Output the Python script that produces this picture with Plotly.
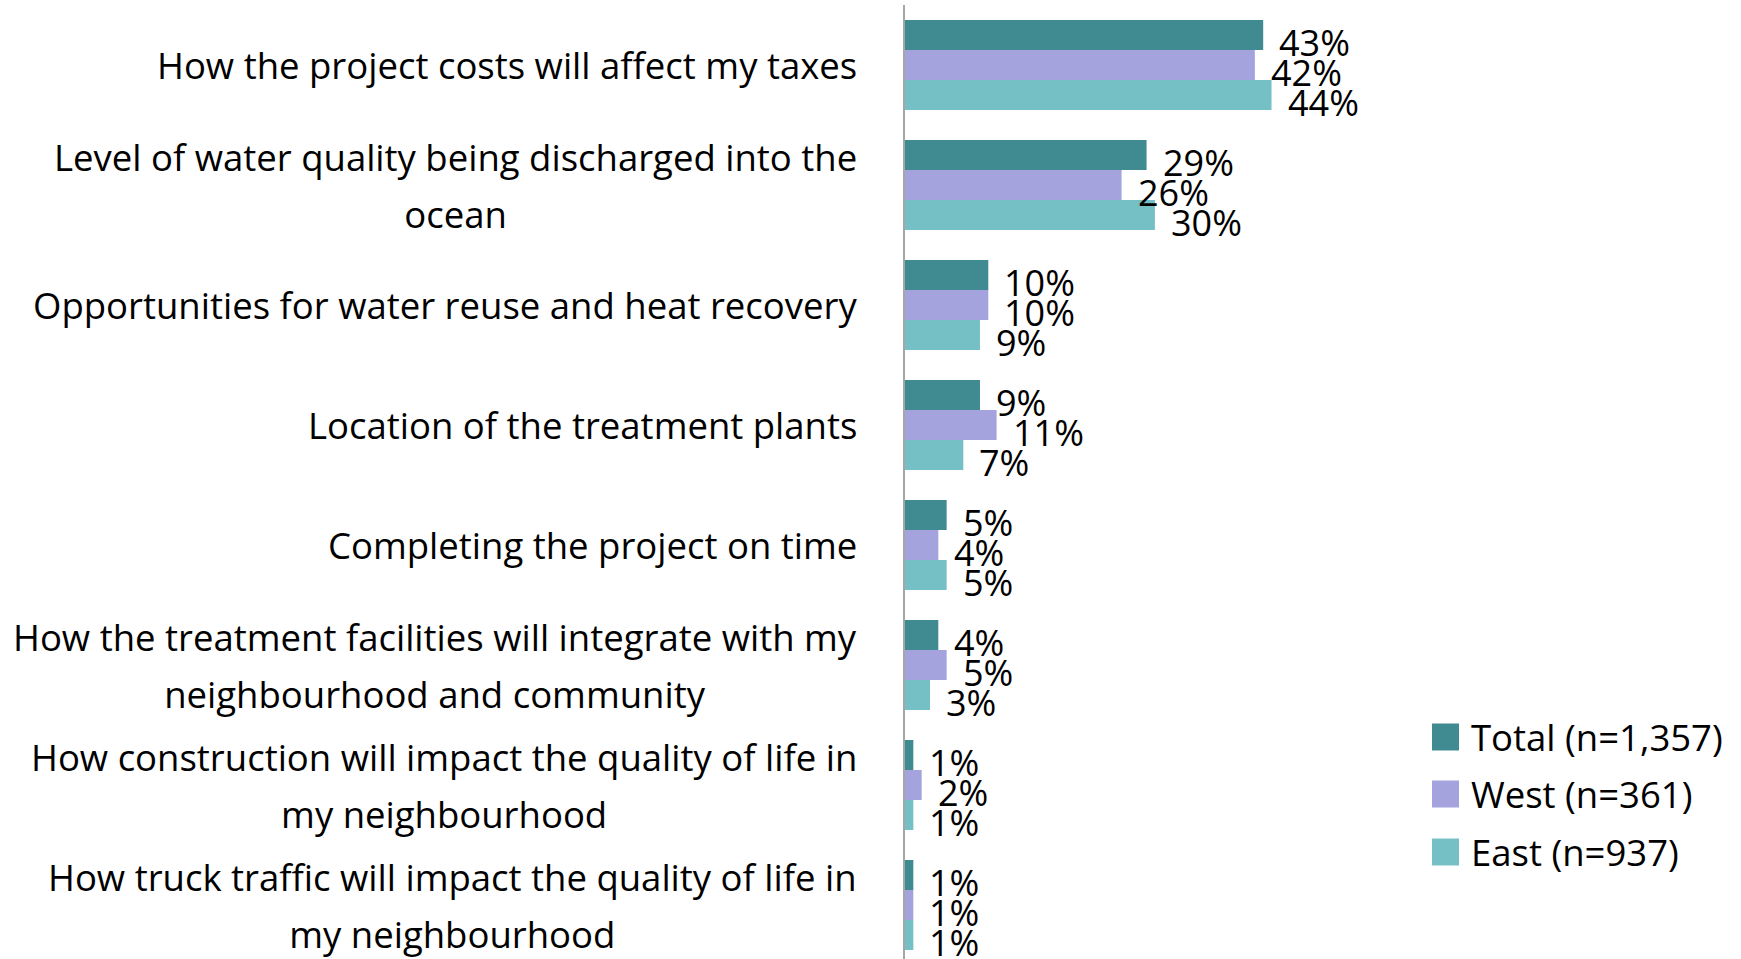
import plotly.graph_objects as go

categories = [
    "How the project costs will affect my taxes",
    "Level of water quality being discharged into the<br>ocean",
    "Opportunities for water reuse and heat recovery",
    "Location of the treatment plants",
    "Completing the project on time",
    "How the treatment facilities will integrate with my<br>neighbourhood and community",
    "How construction will impact the quality of life in<br>my neighbourhood",
    "How truck traffic will impact the quality of life in<br>my neighbourhood",
]
series_names = ["Total (n=1,357)", "West (n=361)", "East (n=937)"]
total = [43, 29, 10, 9, 5, 4, 1, 1]
west = [42, 26, 10, 11, 4, 5, 2, 1]
east = [44, 30, 9, 7, 5, 3, 1, 1]
series_values = [total, west, east]
colors = ["#3F8B91", "#A4A3DE", "#74C0C5"]

W, H = 1741, 959
ML, MT = 905, 5
plot_w = W - ML
plot_h = H - MT
px_per_pct = 8.33
bar_px = 30

fig = go.Figure()
for name, vals, col in zip(series_names, series_values, colors):
    fig.add_trace(go.Bar(
        y=categories, x=vals, name=name, orientation="h",
        marker=dict(color=col, line=dict(width=0)),
        showlegend=False, hoverinfo="x+y",
    ))

annotations = []
label_font = "Open Sans"
for cat in categories:
    lines = cat.split("<br>")
    txt = "<br>".join(f"<span style='font-size:36.5px'>{ln}</span>" for ln in lines)
    annotations.append(dict(
        x=0, xref="paper", y=cat, yref="y", xanchor="right", yanchor="middle",
        xshift=-46, text=txt, align="center", showarrow=False,
        font=dict(family=label_font, size=44, color="#000000"),
    ))

for i, vals in enumerate(series_values):
    off = (i - 1) * bar_px
    for cat, v in zip(categories, vals):
        annotations.append(dict(
            x=v, xref="x", y=cat, yref="y", xanchor="left", yanchor="middle",
            xshift=14, yshift=-off - 7, text=f"{v}%", showarrow=False,
            font=dict(family="Open Sans", size=36, color="#000000"),
        ))

shapes = []
leg_rows = [737, 794, 852]
sw_x0, sw_x1, text_x = 1432, 1459, 1469
for name, col, ry in zip(series_names, colors, leg_rows):
    y0 = (H - (ry + 13.5)) / plot_h
    y1 = (H - (ry - 13.5)) / plot_h
    shapes.append(dict(
        type="rect", xref="paper", yref="paper",
        x0=(sw_x0 - ML) / plot_w, x1=(sw_x1 - ML) / plot_w, y0=y0, y1=y1,
        fillcolor=col, line=dict(width=0),
    ))
    annotations.append(dict(
        x=(text_x - ML) / plot_w, xref="paper", y=(H - ry) / plot_h, yref="paper",
        xanchor="left", yanchor="middle", text=name, showarrow=False,
        font=dict(family=label_font, size=36.5, color="#000000"),
    ))

fig.update_layout(
    width=W, height=H,
    margin=dict(l=ML, r=0, t=MT, b=0, pad=0),
    barmode="group", bargap=0.25, bargroupgap=0,
    plot_bgcolor="white", paper_bgcolor="white",
    annotations=annotations, shapes=shapes,
    xaxis=dict(range=[0, plot_w / px_per_pct], visible=False, fixedrange=True),
    yaxis=dict(
        type="category", categoryorder="array", categoryarray=categories,
        range=[-0.5 + plot_h / 120.0, -0.5],
        showticklabels=False, ticks="", showgrid=False, zeroline=False,
        showline=True, linecolor="#A6A6A6", linewidth=2, fixedrange=True,
    ),
    showlegend=False,
)

fig.write_html(
    "out.html",
    config={"displayModeBar": False},
    post_script="document.body.style.margin='0px';document.body.style.overflow='hidden';",
)
